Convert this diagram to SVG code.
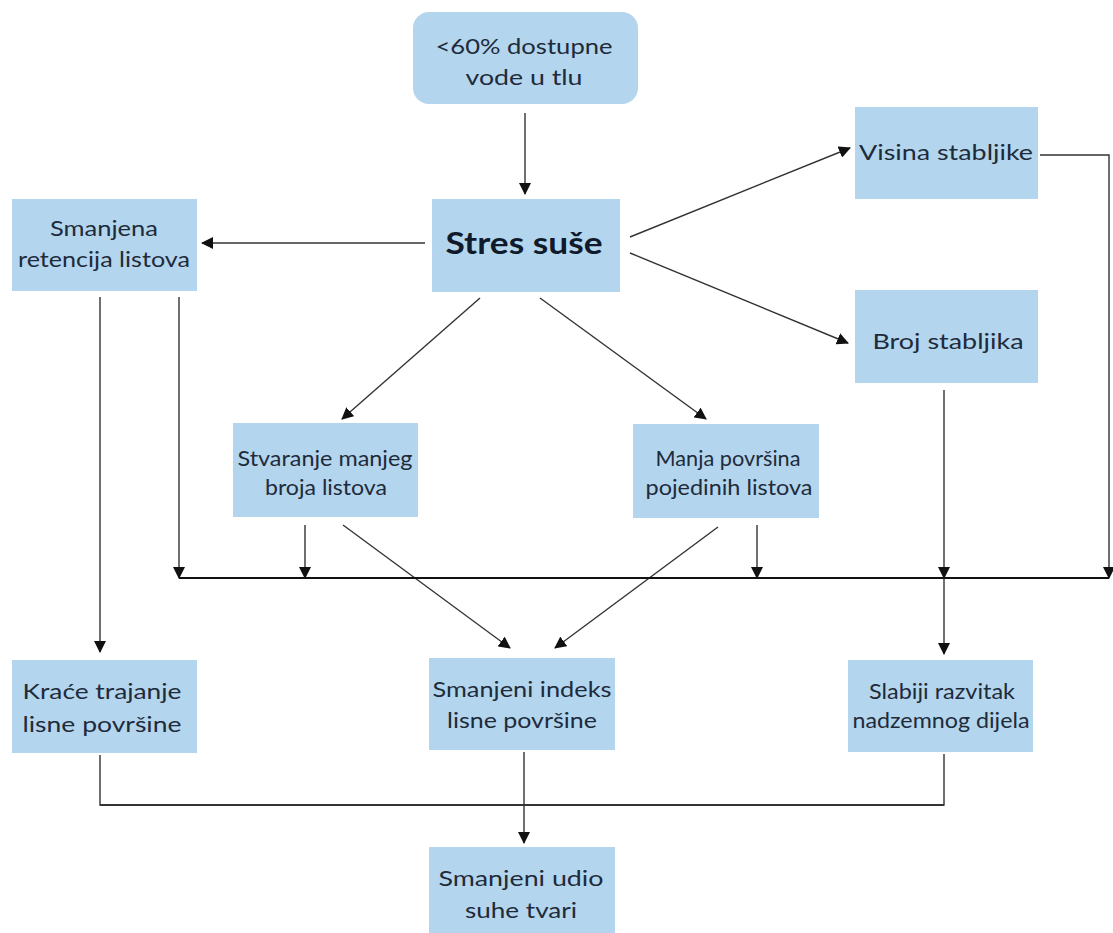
<svg xmlns="http://www.w3.org/2000/svg" width="1113" height="933" viewBox="0 0 1113 933">
<defs>
<marker id="ah" markerUnits="userSpaceOnUse" markerWidth="12" markerHeight="12" refX="11" refY="6" orient="auto">
<path d="M0,0 L12,6 L0,12 z" fill="#111"/>
</marker>
<style>
.box{fill:#b4d5ee;}
.t{font-family:Lato,"Liberation Sans",sans-serif;font-size:22px;fill:#1e2b3a;text-anchor:middle;}
.b{font-weight:bold;font-size:30px;fill:#0f1a2a;}
.c{fill:none;stroke:#333;stroke-width:1.4;}
.a{marker-end:url(#ah);}
.h{stroke:#111;stroke-width:2;}
</style>
</defs>
<rect width="1113" height="933" fill="#fff"/>
<g id="connectors">
<line class="c a" x1="525" y1="113" x2="525" y2="194"/>
<line class="c a" x1="425" y1="243" x2="202" y2="243"/>
<line class="c a" x1="630" y1="237" x2="850" y2="148"/>
<line class="c a" x1="630" y1="253" x2="848" y2="343"/>
<line class="c a" x1="480" y1="298" x2="342" y2="419"/>
<line class="c a" x1="540" y1="298" x2="706" y2="419"/>
<line class="c a" x1="100" y1="297" x2="100" y2="652"/>
<line class="c a" x1="179" y1="297" x2="179" y2="578"/>
<line class="c a" x1="305" y1="525" x2="305" y2="578"/>
<line class="c a" x1="757" y1="525" x2="757" y2="578"/>
<line class="c a" x1="944" y1="390" x2="944" y2="578"/>
<line class="c a" x1="944" y1="578" x2="944" y2="654"/>
<line class="c a" x1="343" y1="525" x2="510" y2="648"/>
<line class="c a" x1="718" y1="527" x2="555" y2="648"/>
<polyline class="c a" points="1040,155 1109,155 1109,578"/>
<line class="c h" x1="179" y1="578" x2="1109" y2="578"/>
<polyline class="c" points="100,755 100,805 944,805 944,754"/>
<line class="c" x1="100" y1="805" x2="944" y2="805" style="stroke-width:1.8"/>
<line class="c a" x1="524" y1="752" x2="524" y2="843"/>
</g>
<g id="n-voda">
<rect class="box" x="413" y="12" width="225" height="92" rx="16"/>
<text class="t" x="524" y="54" textLength="177" lengthAdjust="spacingAndGlyphs">&lt;60% dostupne</text>
<text class="t" x="524" y="85" textLength="117" lengthAdjust="spacingAndGlyphs">vode  u tlu</text>
</g>
<g id="n-stres">
<rect class="box" x="432" y="199" width="188" height="93"/>
<text class="t b" x="524" y="254" textLength="157" lengthAdjust="spacingAndGlyphs">Stres suše</text>
</g>
<g id="n-retencija">
<rect class="box" x="12" y="199" width="185" height="92"/>
<text class="t" x="104" y="236" textLength="108" lengthAdjust="spacingAndGlyphs">Smanjena</text>
<text class="t" x="104" y="267" textLength="172" lengthAdjust="spacingAndGlyphs">retencija listova</text>
</g>
<g id="n-visina">
<rect class="box" x="855" y="107" width="183" height="92"/>
<text class="t" x="946" y="160" textLength="174" lengthAdjust="spacingAndGlyphs">Visina stabljike</text>
</g>
<g id="n-broj">
<rect class="box" x="855" y="290" width="183" height="93"/>
<text class="t" x="948" y="349" textLength="151" lengthAdjust="spacingAndGlyphs">Broj stabljika</text>
</g>
<g id="n-stvaranje">
<rect class="box" x="233" y="423" width="185" height="94"/>
<text class="t" x="325" y="466" textLength="175" lengthAdjust="spacingAndGlyphs">Stvaranje manjeg</text>
<text class="t" x="326" y="495" textLength="122" lengthAdjust="spacingAndGlyphs">broja  listova</text>
</g>
<g id="n-manja">
<rect class="box" x="633" y="424" width="186" height="94"/>
<text class="t" x="728" y="466" textLength="145" lengthAdjust="spacingAndGlyphs">Manja površina</text>
<text class="t" x="729" y="495" textLength="167" lengthAdjust="spacingAndGlyphs">pojedinih  listova</text>
</g>
<g id="n-krace">
<rect class="box" x="12" y="660" width="185" height="93"/>
<text class="t" x="102" y="699" textLength="159" lengthAdjust="spacingAndGlyphs">Kraće trajanje</text>
<text class="t" x="102" y="732" textLength="159" lengthAdjust="spacingAndGlyphs">lisne površine</text>
</g>
<g id="n-indeks">
<rect class="box" x="429" y="658" width="186" height="92"/>
<text class="t" x="522" y="697" textLength="179" lengthAdjust="spacingAndGlyphs">Smanjeni indeks</text>
<text class="t" x="522" y="728" textLength="150" lengthAdjust="spacingAndGlyphs">lisne površine</text>
</g>
<g id="n-slabiji">
<rect class="box" x="848" y="660" width="185" height="92"/>
<text class="t" x="942" y="699" textLength="146" lengthAdjust="spacingAndGlyphs">Slabiji  razvitak</text>
<text class="t" x="941" y="728" textLength="177" lengthAdjust="spacingAndGlyphs">nadzemnog dijela</text>
</g>
<g id="n-udio">
<rect class="box" x="429" y="847" width="186" height="86"/>
<text class="t" x="521" y="886" textLength="165" lengthAdjust="spacingAndGlyphs">Smanjeni  udio</text>
<text class="t" x="521" y="918" textLength="112" lengthAdjust="spacingAndGlyphs">suhe tvari</text>
</g>
</svg>
